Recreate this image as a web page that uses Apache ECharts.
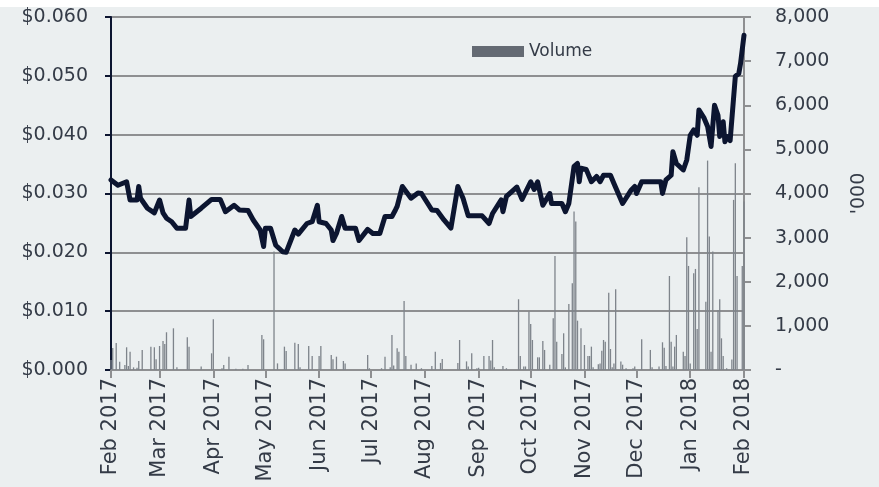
<!DOCTYPE html>
<html>
<head>
<meta charset="utf-8">
<script src="https://cdn.jsdelivr.net/npm/echarts@6/dist/echarts.min.js"></script>
<style>
  html, body { margin: 0; padding: 0; background: #ffffff; }
  #chart { position: absolute; left: 0; top: 7px; width: 879px; height: 480px; background: #ebeff0; }
</style>
</head>
<body>
<div id="chart"></div>
<script>
// share price, $ (left axis)
const priceDates = [
  '2017-02-01', '2017-02-05', '2017-02-10', '2017-02-12', '2017-02-16', '2017-02-17', '2017-02-18',
  '2017-02-22', '2017-02-26', '2017-03-01', '2017-03-03', '2017-03-05', '2017-03-08', '2017-03-11',
  '2017-03-16', '2017-03-18', '2017-03-19', '2017-03-25', '2017-03-31', '2017-04-05', '2017-04-08',
  '2017-04-13', '2017-04-16', '2017-04-21', '2017-04-24', '2017-04-28', '2017-04-30', '2017-05-01',
  '2017-05-04', '2017-05-07', '2017-05-11', '2017-05-13', '2017-05-18', '2017-05-20', '2017-05-25',
  '2017-05-28', '2017-05-31', '2017-06-01', '2017-06-05', '2017-06-08', '2017-06-09', '2017-06-11',
  '2017-06-14', '2017-06-16', '2017-06-22', '2017-06-24', '2017-06-29', '2017-07-02', '2017-07-06',
  '2017-07-09', '2017-07-13', '2017-07-15', '2017-07-16', '2017-07-19', '2017-07-24', '2017-07-28',
  '2017-07-30', '2017-08-02', '2017-08-05', '2017-08-08', '2017-08-12', '2017-08-16', '2017-08-20',
  '2017-08-23', '2017-08-26', '2017-09-03', '2017-09-07', '2017-09-09', '2017-09-14', '2017-09-15',
  '2017-09-17', '2017-09-23', '2017-09-26', '2017-10-01', '2017-10-03', '2017-10-05', '2017-10-08',
  '2017-10-12', '2017-10-13', '2017-10-19', '2017-10-21', '2017-10-23', '2017-10-26', '2017-10-28',
  '2017-10-29', '2017-10-30', '2017-11-02', '2017-11-05', '2017-11-08', '2017-11-10', '2017-11-12',
  '2017-11-16', '2017-11-18', '2017-11-23', '2017-11-28', '2017-11-30', '2017-12-01', '2017-12-04',
  '2017-12-15', '2017-12-16', '2017-12-18', '2017-12-21', '2017-12-22', '2017-12-24', '2017-12-28',
  '2017-12-30', '2018-01-01', '2018-01-03', '2018-01-05', '2018-01-06', '2018-01-09', '2018-01-11',
  '2018-01-13', '2018-01-15', '2018-01-17', '2018-01-18', '2018-01-20', '2018-01-21', '2018-01-22',
  '2018-01-24', '2018-01-27', '2018-01-29', '2018-01-30', '2018-02-01'
];
const prices = [
  0.0323, 0.0314, 0.0320, 0.0289, 0.0289, 0.0312, 0.0292,
  0.0275, 0.0267, 0.0289, 0.0267, 0.0258, 0.0252, 0.0241,
  0.0241, 0.0289, 0.0261, 0.0275, 0.0290, 0.0290, 0.0269,
  0.0280, 0.0272, 0.0271, 0.0255, 0.0238, 0.0210, 0.0241,
  0.0241, 0.0212, 0.0201, 0.0200, 0.0238, 0.0231, 0.0249,
  0.0252, 0.0280, 0.0252, 0.0249, 0.0238, 0.0220, 0.0232,
  0.0261, 0.0241, 0.0241, 0.0220, 0.0239, 0.0232, 0.0232,
  0.0261, 0.0261, 0.0272, 0.0278, 0.0312, 0.0292, 0.0301,
  0.0300, 0.0286, 0.0272, 0.0271, 0.0255, 0.0241, 0.0312,
  0.0292, 0.0262, 0.0262, 0.0249, 0.0266, 0.0289, 0.0269,
  0.0295, 0.0311, 0.0290, 0.0320, 0.0307, 0.0320, 0.0280,
  0.0300, 0.0283, 0.0283, 0.0269, 0.0283, 0.0346, 0.0351,
  0.0320, 0.0343, 0.0341, 0.0320, 0.0329, 0.0320, 0.0331,
  0.0331, 0.0317, 0.0283, 0.0306, 0.0312, 0.0300, 0.0320,
  0.0320, 0.0300, 0.0323, 0.0331, 0.0371, 0.0351, 0.0340,
  0.0357, 0.0399, 0.0408, 0.0399, 0.0442, 0.0428, 0.0414,
  0.0380, 0.0450, 0.0433, 0.0397, 0.0422, 0.0388, 0.0397,
  0.0390, 0.0499, 0.0504, 0.0521, 0.0569
];

// traded volume, '000 shares (right axis)
const volDates = [
  '2017-02-01', '2017-02-02', '2017-02-04', '2017-02-06', '2017-02-09', '2017-02-10', '2017-02-11',
  '2017-02-12', '2017-02-14', '2017-02-16', '2017-02-17', '2017-02-19', '2017-02-24', '2017-02-26',
  '2017-02-27', '2017-03-01', '2017-03-03', '2017-03-04', '2017-03-05', '2017-03-09', '2017-03-11',
  '2017-03-17', '2017-03-18', '2017-03-25', '2017-03-31', '2017-04-01', '2017-04-06', '2017-04-07',
  '2017-04-10', '2017-04-14', '2017-04-18', '2017-04-21', '2017-04-29', '2017-04-30', '2017-05-06',
  '2017-05-08', '2017-05-12', '2017-05-13', '2017-05-18', '2017-05-20', '2017-05-21', '2017-05-26',
  '2017-05-28', '2017-06-01', '2017-06-02', '2017-06-08', '2017-06-09', '2017-06-11', '2017-06-15',
  '2017-06-16', '2017-06-29', '2017-06-30', '2017-07-07', '2017-07-09', '2017-07-12', '2017-07-13',
  '2017-07-14', '2017-07-16', '2017-07-17', '2017-07-20', '2017-07-21', '2017-07-24', '2017-07-27',
  '2017-07-30', '2017-08-05', '2017-08-07', '2017-08-10', '2017-08-11', '2017-08-20', '2017-08-21',
  '2017-08-25', '2017-08-26', '2017-08-28', '2017-08-31', '2017-09-01', '2017-09-04', '2017-09-07',
  '2017-09-08', '2017-09-09', '2017-09-10', '2017-09-15', '2017-09-17', '2017-09-24', '2017-09-25',
  '2017-09-27', '2017-09-28', '2017-09-30', '2017-10-01', '2017-10-02', '2017-10-05', '2017-10-06',
  '2017-10-08', '2017-10-09', '2017-10-12', '2017-10-14', '2017-10-15', '2017-10-16', '2017-10-19',
  '2017-10-20', '2017-10-21', '2017-10-23', '2017-10-25', '2017-10-26', '2017-10-27', '2017-10-28',
  '2017-10-30', '2017-11-01', '2017-11-03', '2017-11-04', '2017-11-05', '2017-11-06', '2017-11-09',
  '2017-11-10', '2017-11-11', '2017-11-12', '2017-11-13', '2017-11-15', '2017-11-16', '2017-11-17',
  '2017-11-18', '2017-11-19', '2017-11-22', '2017-11-23', '2017-11-25', '2017-11-29', '2017-11-30',
  '2017-12-04', '2017-12-09', '2017-12-10', '2017-12-14', '2017-12-16', '2017-12-17', '2017-12-18',
  '2017-12-20', '2017-12-21', '2017-12-22', '2017-12-23', '2017-12-24', '2017-12-28', '2017-12-29',
  '2017-12-30', '2017-12-31', '2018-01-01', '2018-01-03', '2018-01-04', '2018-01-05', '2018-01-06',
  '2018-01-10', '2018-01-11', '2018-01-12', '2018-01-13', '2018-01-14', '2018-01-17', '2018-01-18',
  '2018-01-19', '2018-01-20', '2018-01-22', '2018-01-25', '2018-01-26', '2018-01-27', '2018-01-28',
  '2018-01-31', '2018-02-01'
];
const volumes = [
  227, 499, 612, 189, 113, 515, 90,
  415, 60, 50, 204, 454, 529, 515,
  242, 544, 658, 590, 855, 945, 60,
  741, 529, 80, 378, 1149, 40, 113,
  302, 30, 30, 113, 794, 696, 2683,
  150, 529, 431, 620, 590, 60, 544,
  318, 318, 544, 340, 242, 302, 204,
  150, 340, 40, 40, 302, 60, 794,
  100, 491, 415, 1565, 318, 120, 150,
  40, 90, 415, 160, 249, 160, 680,
  195, 80, 378, 40, 50, 318, 318,
  218, 680, 60, 90, 40, 1603, 318,
  80, 80, 1323, 1043, 680, 287, 287,
  658, 454, 120, 1172, 2585, 642, 363,
  832, 60, 1497, 1966, 3590, 3363, 1118,
  945, 567, 318, 318, 529, 60, 130,
  150, 438, 680, 642, 1753, 476, 60,
  150, 1830, 190, 120, 40, 40, 80,
  696, 454, 60, 80, 628, 506, 90,
  2131, 642, 80, 529, 794, 415, 318,
  3009, 2358, 150, 2193, 2290, 930, 4143,
  1549, 4746, 3023, 415, 2683, 1360, 1603,
  718, 318, 40, 240, 3855, 4686, 2131,
  2358, 3817
];

const monthNames = ['Jan', 'Feb', 'Mar', 'Apr', 'May', 'Jun', 'Jul', 'Aug', 'Sep', 'Oct', 'Nov', 'Dec'];
const monthStarts = [];
for (let i = 0; i <= 12; i++) {
  monthStarts.push(Date.UTC(2017, 1 + i, 1));
}
function toTime(s) {
  const p = s.split('-');
  return Date.UTC(+p[0], +p[1] - 1, +p[2]);
}

const font = 'DejaVu Sans';
const textColor = '#343b47';
const gridGrey = '#8e8f91';
const navy = '#0c1530';

const myChart = echarts.init(document.getElementById('chart'));
myChart.setOption({
  animation: false,
  textStyle: { fontFamily: font },
  grid: { left: 111, right: 135, top: 10, bottom: 117 },
  legend: {
    left: 467,
    top: 31,
    itemWidth: 52,
    itemHeight: 11,
    icon: 'rect',
    textStyle: { fontFamily: font, fontSize: 17, color: textColor },
    data: [{ name: 'Volume', itemStyle: { color: '#646a73' } }],
  },
  xAxis: {
    type: 'value',
    min: monthStarts[0],
    max: monthStarts[12],
    axisLine: { lineStyle: { color: gridGrey, width: 2 } },
    axisTick: { customValues: monthStarts, length: 8, lineStyle: { color: gridGrey, width: 2 } },
    splitLine: { show: false },
    axisLabel: {
      customValues: monthStarts,
      rotate: 90,
      margin: 8,
      fontSize: 21,
      color: textColor,
      formatter: function (v) {
        const d = new Date(v);
        return monthNames[d.getUTCMonth()] + ' ' + d.getUTCFullYear();
      },
    },
  },
  yAxis: [
    {
      type: 'value',
      position: 'left',
      min: 0,
      max: 0.06,
      interval: 0.01,
      axisLine: { show: true, lineStyle: { color: navy, width: 2 } },
      axisTick: { show: true, length: 6, lineStyle: { color: navy, width: 2 } },
      splitLine: { lineStyle: { color: gridGrey, width: 2 } },
      axisLabel: {
        margin: 23,
        fontSize: 19,
        color: textColor,
        formatter: (v) => '$' + v.toFixed(3),
      },
    },
    {
      type: 'value',
      position: 'right',
      min: 0,
      max: 8000,
      interval: 1000,
      name: "'000",
      nameLocation: 'middle',
      nameRotate: 90,
      nameGap: 106,
      nameTextStyle: { fontFamily: font, fontSize: 19, color: textColor },
      axisLine: { show: true, lineStyle: { color: gridGrey, width: 2 } },
      axisTick: { show: true, length: 7, lineStyle: { color: gridGrey, width: 2 } },
      splitLine: { show: false },
      axisLabel: {
        margin: 31,
        fontSize: 19,
        color: textColor,
        formatter: (v) => (v === 0 ? '-' : v.toLocaleString('en-US')),
      },
    },
  ],
  series: [
    {
      name: 'Volume',
      type: 'bar',
      yAxisIndex: 1,
      barWidth: 1.3,
      itemStyle: { color: '#7e848b' },
      data: volDates.map((d, i) => [toTime(d), volumes[i]]),
      z: 2,
    },
    {
      name: 'Price',
      type: 'line',
      yAxisIndex: 0,
      showSymbol: false,
      symbol: 'none',
      lineStyle: { color: navy, width: 5, join: 'round', cap: 'round' },
      data: priceDates.map((d, i) => [toTime(d), prices[i]]),
      z: 5,
    },
  ],
});
</script>
</body>
</html>
